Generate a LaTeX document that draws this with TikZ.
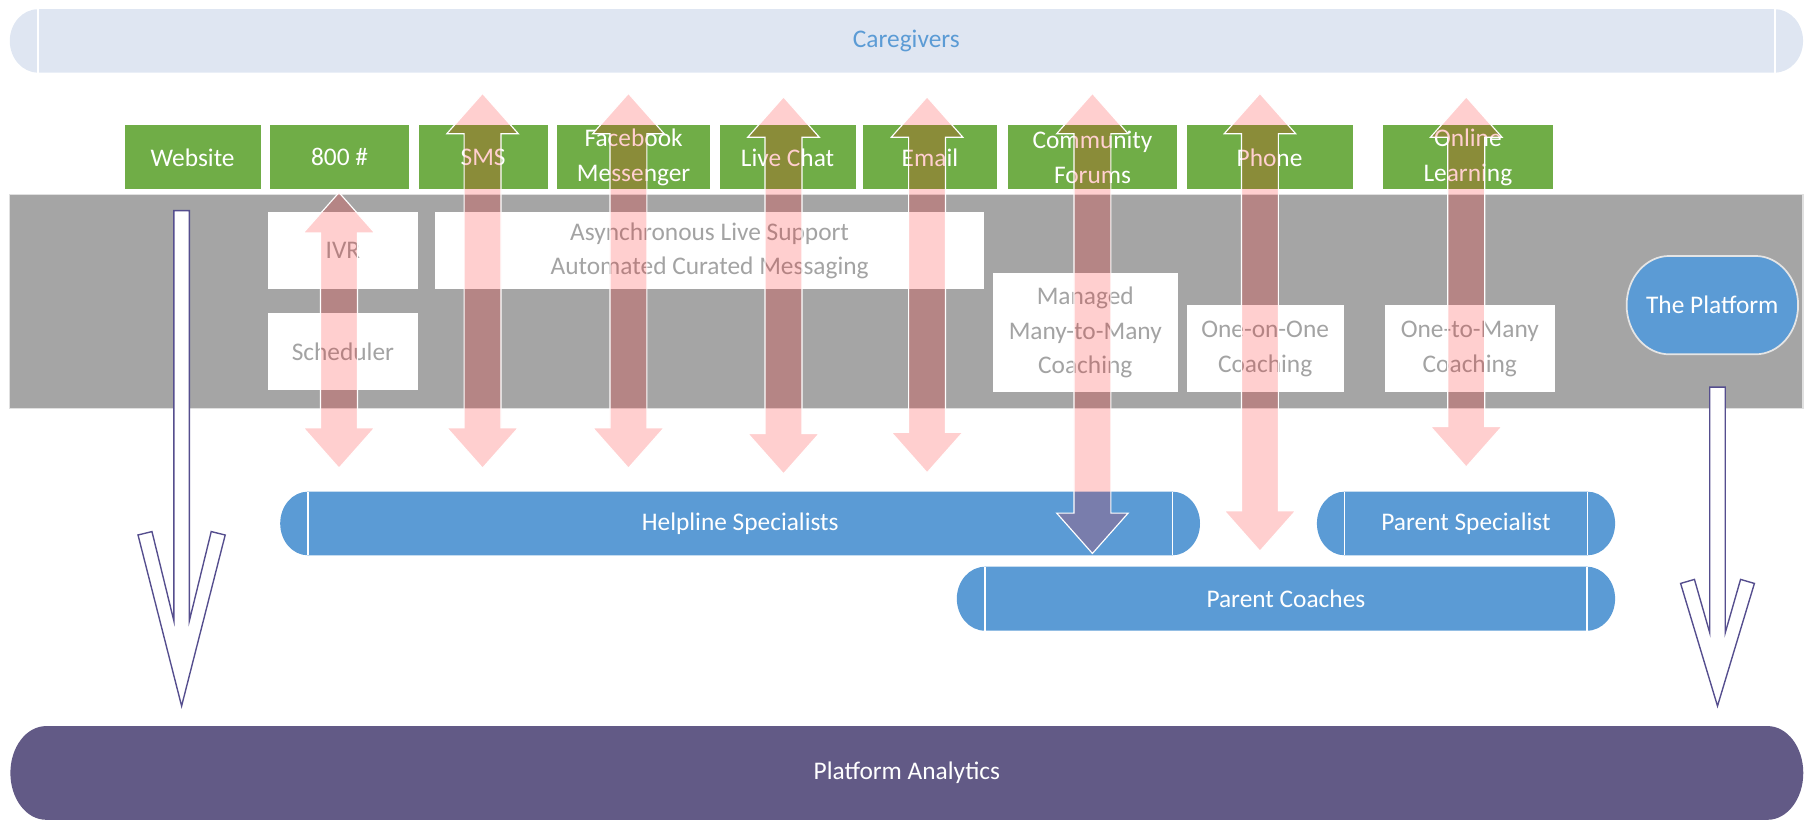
\documentclass[tikz,border=0pt]{standalone}
\usepackage{fontspec}
\setmainfont{Carlito}
\usetikzlibrary{calc}
\definecolor{cgfill}{HTML}{DFE6F2}
\definecolor{cgtext}{HTML}{5B9BD5}
\definecolor{chgreen}{HTML}{70AD47}
\definecolor{bandgray}{HTML}{A5A5A5}
\definecolor{boxtext}{HTML}{A3A3A3}
\definecolor{roleblue}{HTML}{5B9BD5}
\definecolor{anpurple}{HTML}{625A86}
\definecolor{arrowline}{HTML}{554E8E}
\newcommand{\fs}{\fontsize{22}{30}\selectfont}
\newcommand{\capsule}[6]{%
  \path[#6] (#1+#5,#2) -- (#3-#5,#2)
    arc[start angle=-90,end angle=90,x radius=#5pt,y radius={(#4-#2)/2*1pt}]
    -- (#1+#5,#4)
    arc[start angle=90,end angle=270,x radius=#5pt,y radius={(#4-#2)/2*1pt}] -- cycle;}
\newcommand{\caplines}[5]{%
  \draw[capline] (#1+#5,#2) -- (#1+#5,#4) (#3-#5,#2) -- (#3-#5,#4);}
\newcommand{\dblarrow}[2]{%
  \draw[pinkarrow] let \p1=(#1), \p2=(#2) in
    (\x1,\y1) -- (\x1+31pt,\y1-35pt) -- (\x1+16pt,\y1-35pt) -- (\x2+16pt,\y2+35pt)
    -- (\x2+31pt,\y2+35pt) -- (\x2,\y2) -- (\x2-31pt,\y2+35pt) -- (\x2-16pt,\y2+35pt)
    -- (\x1-16pt,\y1-35pt) -- (\x1-31pt,\y1-35pt) -- cycle;}
\tikzset{
  chan/.style={fill=chgreen, text=white, minimum height=55.5pt, inner sep=0pt, align=center, font=\fs},
  svc/.style={fill=white, text=boxtext, inner sep=0pt, align=center, font=\fs},
  lbl/.style={inner sep=0pt, align=center, font=\fs},
  capline/.style={white, line width=1.2pt},
  pinkarrow/.style={fill=red, fill opacity=0.19, draw=white, line width=1pt, line join=miter},
  hollowarrow/.style={fill=white, draw=arrowline, line width=1.2pt, line join=miter},
}
\begin{document}
\begin{tikzpicture}[x=1pt,y=1pt]
\useasboundingbox (0,0) rectangle (1568,711);
% Caregivers
\capsule{8.5}{648}{1563.7}{703}{24.5}{fill=cgfill}
\caplines{8.5}{648}{1563.7}{703}{24.5}
\node[lbl, text=cgtext] (care) at (786,675.5) {Caregivers};
% gray band
\path[fill=bandgray, draw=white!88!black, line width=1pt] (8.5,357) rectangle (1563.7,542);
% channels
\node[chan, minimum width=118pt] (web) at (167,574.5) {Website};
\node[chan, minimum width=121pt] (tel) at (294.5,574.5) {800 \#};
\node[chan, minimum width=112pt] (sms) at (419,574.5) {SMS};
\node[chan, minimum width=133pt] (fb) at (549.5,574.5) {Facebook\\Messenger};
\node[chan, minimum width=118pt] (chat) at (683,574.5) {Live Chat};
\node[chan, minimum width=117pt] (mail) at (806.5,574.5) {Email};
\node[chan, minimum width=147pt] (forum) at (947.5,574.5) {Community\\Forums};
\node[chan, minimum width=144pt] (phone) at (1101,574.5) {Phone};
\node[chan, minimum width=148pt] (learn) at (1273,574.5) {Online\\Learning};
% services
\node[svc, minimum width=130.7pt, minimum height=67pt] (ivr) at (297.4,493.5) {IVR};
\node[svc, minimum width=130.7pt, minimum height=66.4pt] (sched) at (297.4,406) {Scheduler};
\node[svc, minimum width=475.8pt, minimum height=67pt] (async) at (615.4,493.5) {Asynchronous Live Support\\Automated Curated Messaging};
\node[svc, minimum width=160.3pt, minimum height=103.8pt] (many) at (941.2,422.6) {Managed\\Many-to-Many\\Coaching};
\node[svc, minimum width=136.3pt, minimum height=75.3pt] (one) at (1097.2,408.4) {One-on-One\\Coaching};
\node[svc, minimum width=147.8pt, minimum height=75.3pt] (otm) at (1274.7,408.4) {One-to-Many\\Coaching};
% platform
\capsule{1410.7}{403.7}{1559.4}{489}{37}{fill=roleblue, draw=white!90!black, line width=1.5pt}
\node[lbl, text=white] (platform) at (1485,446.4) {The Platform};
% roles
\capsule{243}{229.4}{1040.7}{284.6}{24}{fill=roleblue}
\caplines{243}{229.4}{1040.7}{284.6}{24}
\node[lbl, text=white] (help) at (642,257) {Helpline Specialists};
\capsule{1142.1}{229.4}{1400.7}{284.6}{24}{fill=roleblue}
\caplines{1142.1}{229.4}{1400.7}{284.6}{24}
\node[lbl, text=white] (pspec) at (1271.4,257) {Parent Specialist};
\capsule{829.8}{164}{1400.7}{219.5}{24.5}{fill=roleblue}
\caplines{829.8}{164}{1400.7}{219.5}{24.5}
\node[lbl, text=white] (coach) at (1115.2,191.75) {Parent Coaches};
% analytics
\capsule{9}{0}{1563.9}{81.3}{31}{fill=anpurple}
\node[lbl, text=white] (ana) at (786.5,40.6) {Platform Analytics};
% hollow arrows to analytics
\coordinate (webA) at (157.5,528.3);
\coordinate (anaL) at (157.5,98.7);
\draw[hollowarrow] let \p1=(webA), \p2=(anaL) in
  (\x1-6.75pt,\y1) -- (\x1+6.75pt,\y1) -- (\x1+6.75pt,172.7) -- (\x1+25.7pt,250)
  -- (\x1+37.8pt,247) -- (\x2,\y2) -- (\x1-37.8pt,247) -- (\x1-25.7pt,250)
  -- (\x1-6.75pt,172.7) -- cycle;
\coordinate (platA) at (1489.5,375.2);
\coordinate (anaR) at (1489.5,98.7);
\draw[hollowarrow] let \p1=(platA), \p2=(anaR) in
  (\x1-6.75pt,\y1) -- (\x1+6.75pt,\y1) -- (\x1+6.75pt,162.3) -- (\x1+20pt,208.5)
  -- (\x1+32pt,205) -- (\x2,\y2) -- (\x1-32pt,205) -- (\x1-20pt,208.5)
  -- (\x1-6.75pt,162.3) -- cycle;
% pink double arrows
\coordinate (telT) at (294,544);    \coordinate (telB) at (294,305);
\coordinate (smsT) at (418.5,630);  \coordinate (smsB) at (418.5,305);
\coordinate (fbT) at (545,630);     \coordinate (fbB) at (545,305);
\coordinate (chatT) at (679.5,627); \coordinate (chatB) at (679.5,300);
\coordinate (mailT) at (804,627);   \coordinate (mailB) at (804,301);
\coordinate (forumT) at (947.4,630); \coordinate (forumB) at (947.4,231);
\coordinate (phoneT) at (1092.7,630); \coordinate (phoneB) at (1092.7,233);
\coordinate (learnT) at (1271.6,627); \coordinate (learnB) at (1271.6,306);
\dblarrow{telT}{telB}
\dblarrow{smsT}{smsB}
\dblarrow{fbT}{fbB}
\dblarrow{chatT}{chatB}
\dblarrow{mailT}{mailB}
\dblarrow{forumT}{forumB}
\dblarrow{phoneT}{phoneB}
\dblarrow{learnT}{learnB}
\end{tikzpicture}
\end{document}
